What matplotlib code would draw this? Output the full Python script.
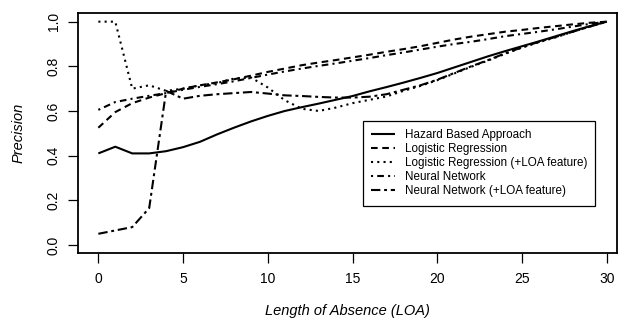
import numpy as np
import matplotlib
matplotlib.use('Agg')
import matplotlib.pyplot as plt

# 字体：接近 R 默认的 Arial 风格
plt.rcParams['font.family'] = ['Liberation Sans', 'DejaVu Sans']

# ---------------------- 数据 ----------------------
loa = list(range(0, 31))

hazard = [0.41, 0.44, 0.41, 0.41, 0.42, 0.438, 0.462, 0.495, 0.525, 0.553,
          0.578, 0.60, 0.617, 0.633, 0.65, 0.667, 0.688, 0.707, 0.727, 0.748,
          0.77, 0.795, 0.82, 0.845, 0.868, 0.89, 0.912, 0.935, 0.958, 0.98, 1.0]

logistic = [0.525, 0.595, 0.635, 0.66, 0.68, 0.70, 0.715, 0.728, 0.742, 0.758,
            0.775, 0.79, 0.805, 0.817, 0.828, 0.84, 0.852, 0.865, 0.877, 0.89,
            0.905, 0.92, 0.933, 0.944, 0.955, 0.963, 0.972, 0.98, 0.988, 0.995, 1.0]

logistic_loa = [1.0, 1.0, 0.70, 0.715, 0.69, 0.70, 0.715, 0.725, 0.745, 0.75,
                0.705, 0.648, 0.61, 0.60, 0.615, 0.635, 0.65, 0.665, 0.69, 0.712,
                0.738, 0.768, 0.798, 0.826, 0.856, 0.884, 0.908, 0.93, 0.955, 0.978, 1.0]

neural = [0.605, 0.64, 0.655, 0.668, 0.68, 0.695, 0.708, 0.72, 0.733, 0.748,
          0.763, 0.777, 0.79, 0.802, 0.813, 0.825, 0.837, 0.85, 0.862, 0.875,
          0.888, 0.90, 0.91, 0.922, 0.935, 0.945, 0.955, 0.966, 0.978, 0.99, 1.0]

neural_loa = [0.05, 0.065, 0.08, 0.165, 0.69, 0.655, 0.668, 0.675, 0.68, 0.685,
              0.678, 0.67, 0.667, 0.663, 0.66, 0.66, 0.664, 0.675, 0.695, 0.715,
              0.74, 0.77, 0.80, 0.828, 0.858, 0.885, 0.91, 0.932, 0.955, 0.978, 1.0]

labels = ['Hazard Based Approach', 'Logistic Regression',
          'Logistic Regression (+LOA feature)', 'Neural Network',
          'Neural Network (+LOA feature)']
xticks = [0, 5, 10, 15, 20, 25, 30]
yticks = [0.0, 0.2, 0.4, 0.6, 0.8, 1.0]

# ---------------------- 绘图 ----------------------
fig = plt.figure(figsize=(6.18, 3.24), dpi=100)
ax = fig.add_axes([78 / 618, 1 - 253 / 324, 539 / 618, 240.5 / 324])

series = [hazard, logistic, logistic_loa, neural, neural_loa]
# 线型：实线、虚线、点线、点划线、长短划线（模仿 R 的 lty 1~5）
styles = [(0, ()), (0, (3.2, 2.2)), (0, (1, 2.0)), (0, (1, 2.0, 3.2, 2.0)), (0, (4.5, 1.8, 1.4, 1.8))]
for y, ls, lab in zip(series, styles, labels):
    ax.plot(loa, y, color='black', linestyle=ls, linewidth=1.5, label=lab)

ax.set_xlim(-1.2, 30.6)
ax.set_ylim(-0.036, 1.041)
ax.set_xticks(xticks)
ax.set_yticks(yticks)
ax.set_xticklabels([str(t) for t in xticks])
ax.set_yticklabels(['%.1f' % t for t in yticks], rotation=90, va='center')
ax.tick_params(axis='both', direction='out', length=7, width=0.9, labelsize=10)
ax.tick_params(axis='x', pad=6.5)
ax.tick_params(axis='y', pad=5.5)
for sp in ax.spines.values():
    sp.set_linewidth(1.3)

ax.set_xlabel('Length of Absence (LOA)', fontsize=10.5, style='italic', va='center')
ax.set_ylabel('Precision', fontsize=10.5, style='italic', va='center')
ax.xaxis.set_label_coords(0.5, (253 - 311) / 240.5)
ax.yaxis.set_label_coords((19 - 78) / 539, 0.5)

leg = ax.legend(loc='upper left', bbox_to_anchor=(363 / 618, 1 - 121 / 324),
                bbox_transform=fig.transFigure, borderaxespad=0, fontsize=8.4,
                handlelength=2.0, handletextpad=0.85, labelspacing=0.17,
                borderpad=0.72, fancybox=False, framealpha=1)
leg.get_frame().set_edgecolor('black')
leg.get_frame().set_linewidth(0.9)

plt.savefig('out.png', dpi=100)
